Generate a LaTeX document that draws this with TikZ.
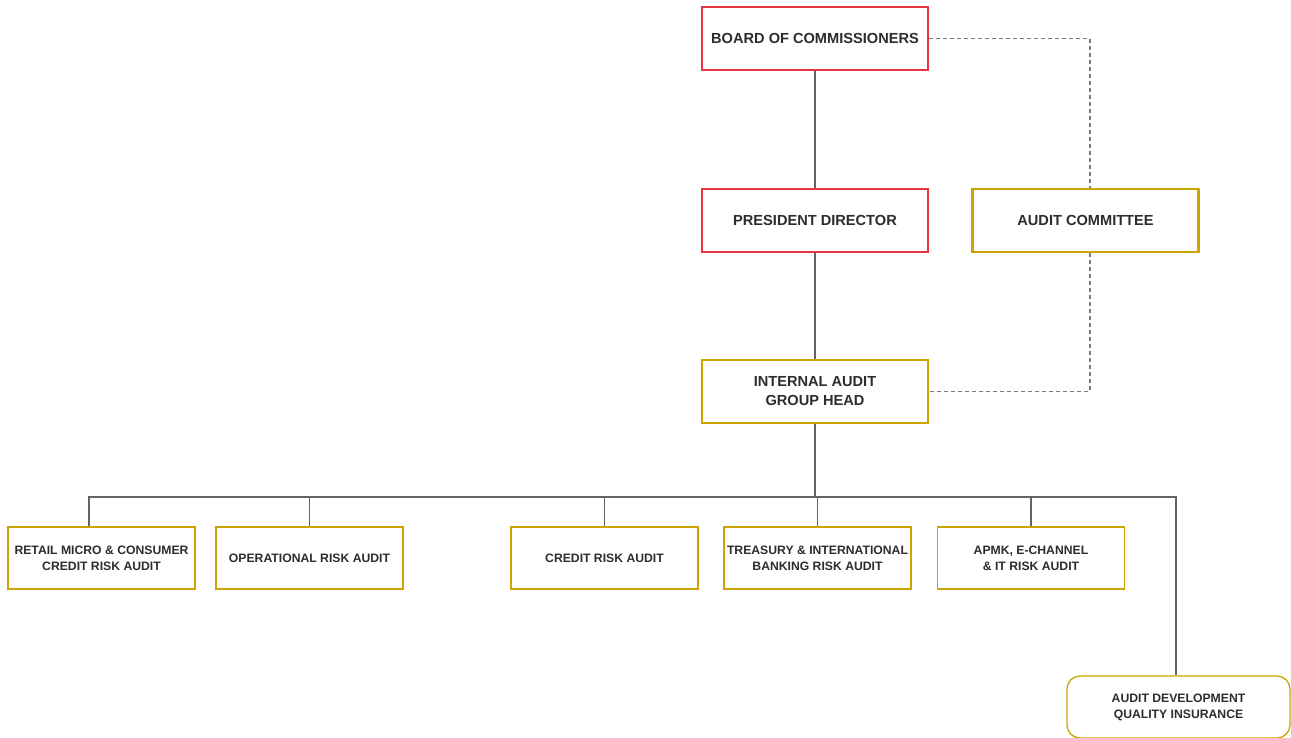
\documentclass[tikz,border=0pt]{standalone}
\usepackage{fontspec}
\setmainfont{Liberation Sans}
\definecolor{boxred}{RGB}{232,52,62}
\definecolor{boxgold}{RGB}{204,166,0}
\definecolor{txtgrey}{RGB}{45,45,45}
\definecolor{linegrey}{RGB}{100,100,100}
\begin{document}
\begin{tikzpicture}[x=1pt,y=-1pt,
  base/.style={draw, fill=white, align=center, inner sep=0pt, text=txtgrey,
    font=\fontsize{14.6}{19}\selectfont\bfseries, minimum width=226pt, minimum height=63pt},
  redbox/.style={base, draw=boxred, line width=2.4pt},
  goldbox/.style={base, draw=boxgold, line width=2.4pt},
  unitbox/.style={base, draw=boxgold, line width=1.3pt, minimum width=187pt, minimum height=62pt,
    font=\fontsize{12.2}{16}\selectfont\bfseries},
  link/.style={draw=linegrey, line width=1.2pt},
  dotlink/.style={draw=linegrey!85, line width=1.1pt, dash pattern=on 4pt off 3pt}]
\useasboundingbox (0,0) rectangle (1291,737);
\begin{scope}
\clip (0,0) rectangle (1291,737);
% upper levels
\node[redbox] (boc) at (815,38.5) {BOARD OF COMMISSIONERS};
\node[redbox] (pd) at (815,220.5) {PRESIDENT DIRECTOR};
\node[goldbox] (ac) at (1085.5,220.5) {AUDIT COMMITTEE};
\node[goldbox] (ia) at (815,391.5) {INTERNAL AUDIT\\GROUP HEAD};
% audit units
\node[unitbox] (retail) at (101.5,558) {RETAIL MICRO \& CONSUMER\\CREDIT RISK AUDIT};
\node[unitbox] (oper) at (309.5,558) {OPERATIONAL RISK AUDIT};
\node[unitbox] (credit) at (604.5,558) {CREDIT RISK AUDIT};
\node[unitbox] (treas) at (817.5,558) {TREASURY \& INTERNATIONAL\\BANKING RISK AUDIT};
\node[unitbox] (apmk) at (1031,558) {APMK, E-CHANNEL\\\& IT RISK AUDIT};
\node[unitbox, rounded corners=13pt, minimum width=223pt] (adqi) at (1178.5,707) {AUDIT DEVELOPMENT\\QUALITY INSURANCE};
% reporting lines
\coordinate (busL) at (89,497);
\coordinate (busR) at (1176,497);
\coordinate (dq) at (1090,38.5);
\coordinate (acx) at (1090,220.5);
\draw[link] (boc.south) -- (pd.north);
\draw[link] (pd.south) -- (ia.north);
\draw[link] (ia.south) -- (ia.south |- busL);
\draw[link] (busL |- retail.north) -- (busL) -- (busR) -- (busR |- adqi.north);
\draw[link] (oper.north) -- (oper.north |- busL);
\draw[link] (credit.north) -- (credit.north |- busL);
\draw[link] (treas.north) -- (treas.north |- busL);
\draw[link] (apmk.north) -- (apmk.north |- busL);
\draw[dotlink] (boc.east) -- (dq) -- (acx |- ac.north);
\draw[dotlink] (acx |- ac.south) |- (ia.east);
\end{scope}
\end{tikzpicture}
\end{document}
